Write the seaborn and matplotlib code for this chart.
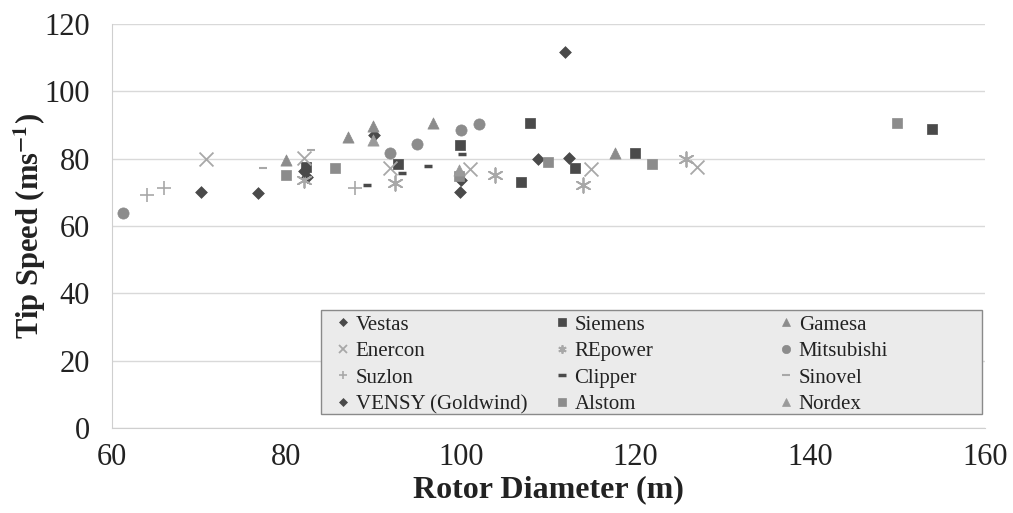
import matplotlib
matplotlib.use("Agg")
import matplotlib.pyplot as plt
import seaborn as sns
from matplotlib.lines import Line2D
from matplotlib.patches import Rectangle
from matplotlib.legend import Legend

# rotor diameter (m) / tip speed (m/s)
vestas_d = [70.2, 76.7, 82.3, 99.9, 108.8, 112.4, 111.9, 90.0]
vestas_v = [70.1, 69.8, 74.6, 70.2, 79.8, 80.1, 111.7, 87.0]
siemens_d = [82.2, 92.8, 99.9, 106.9, 107.9, 113.0, 119.9, 154.0]
siemens_v = [77.5, 78.3, 84.0, 73.2, 90.5, 77.1, 81.8, 88.7]
gamesa_d = [79.9, 87.0, 89.9, 96.8, 117.6]
gamesa_v = [79.6, 86.5, 89.8, 90.5, 81.6]
enercon_d = [70.8, 82.0, 91.8, 101.0, 114.9, 127.0]
enercon_v = [79.8, 80.3, 77.1, 76.8, 76.8, 77.6]
repower_d = [82.0, 92.4, 103.9, 114.0, 125.8]
repower_v = [73.7, 72.7, 75.1, 72.2, 79.8]
mitsubishi_d = [61.3, 91.8, 94.9, 100.0, 102.0]
mitsubishi_v = [63.8, 81.6, 84.3, 88.5, 90.3]
suzlon_d = [64.0, 66.0, 87.8]
suzlon_v = [69.2, 71.2, 71.2]
clipper_d = [89.2, 93.2, 96.2, 100.1]
clipper_v = [72.2, 75.6, 77.8, 81.3]
sinovel_d = [77.3, 82.8]
sinovel_v = [77.1, 82.6]
vensy_d = [82.0, 100.0]
vensy_v = [76.3, 73.8]
alstom_d = [79.9, 85.5, 99.8, 110.0, 121.9, 150.0]
alstom_v = [75.1, 77.1, 75.0, 78.9, 78.4, 90.5]
nordex_d = [89.9, 99.8]
nordex_v = [85.5, 76.5]

dark = "#4a4a4a"
mid = "#8c8c8c"
light = "#a8a8a8"

# name, x, y, marker, color, size, linewidth
series = [
    ("Vestas", vestas_d, vestas_v, "D", dark, 36, 0.5),
    ("Siemens", siemens_d, siemens_v, "s", dark, 62, 0.5),
    ("Gamesa", gamesa_d, gamesa_v, "^", mid, 65, 0.5),
    ("Enercon", enercon_d, enercon_v, "x", light, 100, 1.3),
    ("REpower", repower_d, repower_v, (6, 2, 0), light, 110, 1.3),
    ("Mitsubishi", mitsubishi_d, mitsubishi_v, "o", mid, 65, 0.5),
    ("Suzlon", suzlon_d, suzlon_v, "+", light, 90, 1.2),
    ("Clipper", clipper_d, clipper_v, "_", dark, 28, 2.5),
    ("Sinovel", sinovel_d, sinovel_v, "_", light, 28, 1.5),
    ("VENSY (Goldwind)", vensy_d, vensy_v, "D", dark, 36, 0.5),
    ("Alstom", alstom_d, alstom_v, "s", mid, 62, 0.5),
    ("Nordex", nordex_d, nordex_v, "^", "#9a9a9a", 65, 0.5),
]

sns.set_style("white")
plt.rcParams["font.family"] = ["Liberation Serif", "DejaVu Serif"]
plt.rcParams["mathtext.fontset"] = "stix"

fig, ax = plt.subplots(figsize=(10.13, 5.13), dpi=100)
fig.subplots_adjust(left=0.1106, right=0.972, top=0.953, bottom=0.166)

handles = {}
for name, xs, ys, mk, col, s, lw in series:
    kw = dict(marker=mk, color=col, s=s, linewidth=lw, ax=ax, zorder=3)
    if mk in ("D", "s", "^", "o"):
        kw["edgecolor"] = col
    sns.scatterplot(x=xs, y=ys, **kw)
    handles[name] = Line2D([], [], linestyle="none", marker=mk, color=col,
                           markeredgecolor=col, markersize=6 if mk != "D" else 4.5,
                           markeredgewidth=lw)

ax.set_xlim(60, 160)
ax.set_ylim(0, 120)
ax.set_xticks(range(60, 161, 20))
ax.set_yticks(range(0, 121, 20))
ax.yaxis.grid(True, color="#d9d9d9", linewidth=1)
ax.xaxis.grid(False)
ax.set_axisbelow(True)
for side in ("top", "right"):
    ax.spines[side].set_visible(False)
for side in ("left", "bottom"):
    ax.spines[side].set_color("#cfcfcf")
ax.tick_params(axis="both", labelsize=22, colors="#cfcfcf", labelcolor="#222222",
               length=6, direction="out")
ax.tick_params(axis="x", pad=5)
ax.tick_params(axis="y", pad=10)
ax.set_xlabel("Rotor Diameter (m)", fontsize=23, fontweight="bold", color="#222222",
              labelpad=2)
ax.set_ylabel("Tip Speed (ms$^{\\mathbf{-1}}$)", fontsize=22, fontweight="bold",
              color="#222222", labelpad=-3)

# legend box, with three fixed-width columns
box = Rectangle((0.24, 0.035), 0.757, 0.257, transform=ax.transAxes,
                facecolor="#ebebeb", edgecolor="#8a8a8a", linewidth=1, zorder=4)
ax.add_patch(box)

columns = [["Vestas", "Enercon", "Suzlon", "VENSY (Goldwind)"],
           ["Siemens", "REpower", "Clipper", "Alstom"],
           ["Gamesa", "Mitsubishi", "Sinovel", "Nordex"]]
col_x = [0.254, 0.505, 0.762]
for cx, names in zip(col_x, columns):
    leg = Legend(ax, [handles[n] for n in names], names, loc="upper left",
                 bbox_to_anchor=(cx, 0.287), fontsize=15, frameon=False,
                 handlelength=0.6, handletextpad=0.3, borderpad=0.15,
                 labelspacing=0.33, borderaxespad=0)
    leg.set_zorder(5)
    for t in leg.get_texts():
        t.set_color("#222222")
    ax.add_artist(leg)

fig.savefig("out.png", dpi=100)
